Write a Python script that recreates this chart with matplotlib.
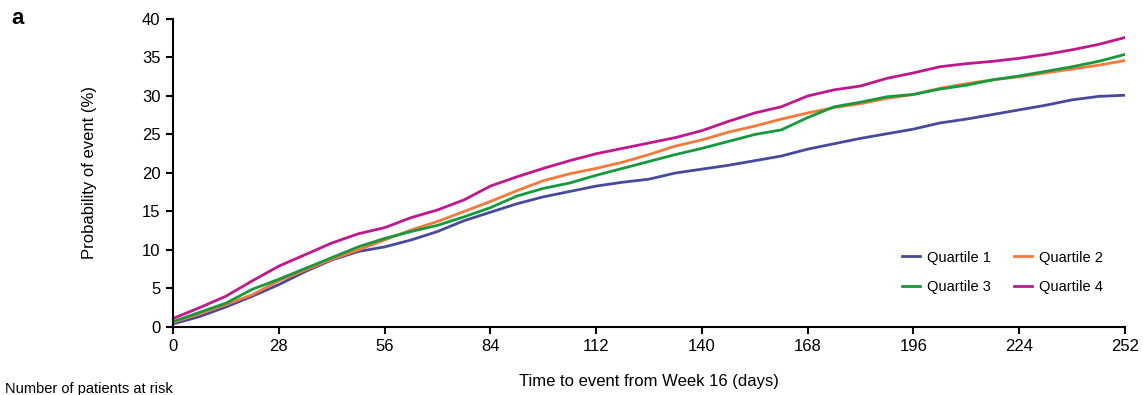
import matplotlib
matplotlib.use("Agg")
import matplotlib.pyplot as plt

plt.rcParams['font.family'] = ['Liberation Sans', 'DejaVu Sans']

# cumulative probability of event (%) read at weekly intervals
days = list(range(0, 253, 7))
quartile_1 = [0.4, 1.35, 2.6, 4.0, 5.5, 7.2, 8.7, 9.8, 10.4, 11.3, 12.4, 13.8, 14.9,
              16.0, 16.9, 17.6, 18.3, 18.8, 19.2, 20.0, 20.5, 21.0, 21.6, 22.2, 23.1,
              23.8, 24.5, 25.1, 25.7, 26.5, 27.0, 27.6, 28.2, 28.8, 29.5, 29.95, 30.1]
quartile_2 = [0.6, 1.7, 2.9, 4.2, 6.0, 7.4, 8.8, 10.0, 11.3, 12.6, 13.7, 15.0, 16.3,
              17.7, 19.0, 19.9, 20.6, 21.4, 22.4, 23.5, 24.3, 25.3, 26.1, 27.0, 27.8,
              28.5, 29.0, 29.7, 30.2, 31.0, 31.6, 32.1, 32.5, 33.0, 33.5, 34.0, 34.6]
quartile_3 = [0.7, 1.9, 3.1, 4.9, 6.2, 7.6, 9.0, 10.4, 11.5, 12.4, 13.2, 14.3, 15.5,
              17.0, 18.0, 18.7, 19.7, 20.6, 21.5, 22.4, 23.2, 24.1, 25.0, 25.6, 27.2,
              28.6, 29.2, 29.9, 30.2, 30.9, 31.4, 32.1, 32.6, 33.2, 33.8, 34.5, 35.4]
quartile_4 = [1.1, 2.5, 4.0, 6.0, 7.9, 9.4, 10.9, 12.1, 12.9, 14.2, 15.2, 16.5, 18.3,
              19.5, 20.6, 21.6, 22.5, 23.2, 23.9, 24.6, 25.5, 26.7, 27.8, 28.6, 30.0,
              30.8, 31.3, 32.3, 33.0, 33.8, 34.2, 34.5, 34.9, 35.4, 36.0, 36.7, 37.6]

labels = ['Quartile 1', 'Quartile 2', 'Quartile 3', 'Quartile 4']
colors = ['#474a9c', '#f5793a', '#139a3c', '#c0178c']
x_ticks = list(range(0, 253, 28))
y_ticks = list(range(0, 41, 5))

fig = plt.figure(figsize=(11.43, 3.95), dpi=100)
ax = fig.add_axes([0.1514, 0.1722, 0.8329, 0.7797])

series = [quartile_1, quartile_2, quartile_3, quartile_4]
for vals, lab, col in zip(series, labels, colors):
    ax.plot(days, vals, color=col, lw=2.0, label=lab, solid_joinstyle='miter')

ax.set_xlim(0, 252)
ax.set_ylim(0, 40)
ax.set_xticks(x_ticks)
ax.set_yticks(y_ticks)
for side in ['top', 'right']:
    ax.spines[side].set_visible(False)
for side in ['left', 'bottom']:
    ax.spines[side].set_linewidth(1.5)
ax.tick_params(direction='out', length=5, width=1.5, labelsize=12, pad=4)
ax.set_xlabel('Time to event from Week 16 (days)', fontsize=12, labelpad=14)
ax.set_ylabel('Probability of event (%)', fontsize=12, labelpad=32)

# legend entries ordered row-wise: Q1 Q2 / Q3 Q4
handles, _ = ax.get_legend_handles_labels()
order = [0, 2, 1, 3]
ax.legend([handles[i] for i in order], [labels[i] for i in order], ncol=2,
          frameon=False, fontsize=10.5, loc='lower right',
          bbox_to_anchor=(0.99, 0.065), handlelength=1.25, columnspacing=1.6,
          labelspacing=1.05, handletextpad=0.45)

fig.text(0.01, 0.952, 'a', fontsize=16, fontweight='bold', va='center')
fig.text(0.004, 0.015, 'Number of patients at risk', fontsize=10.5, va='center')

fig.savefig('out.png', dpi=100)
